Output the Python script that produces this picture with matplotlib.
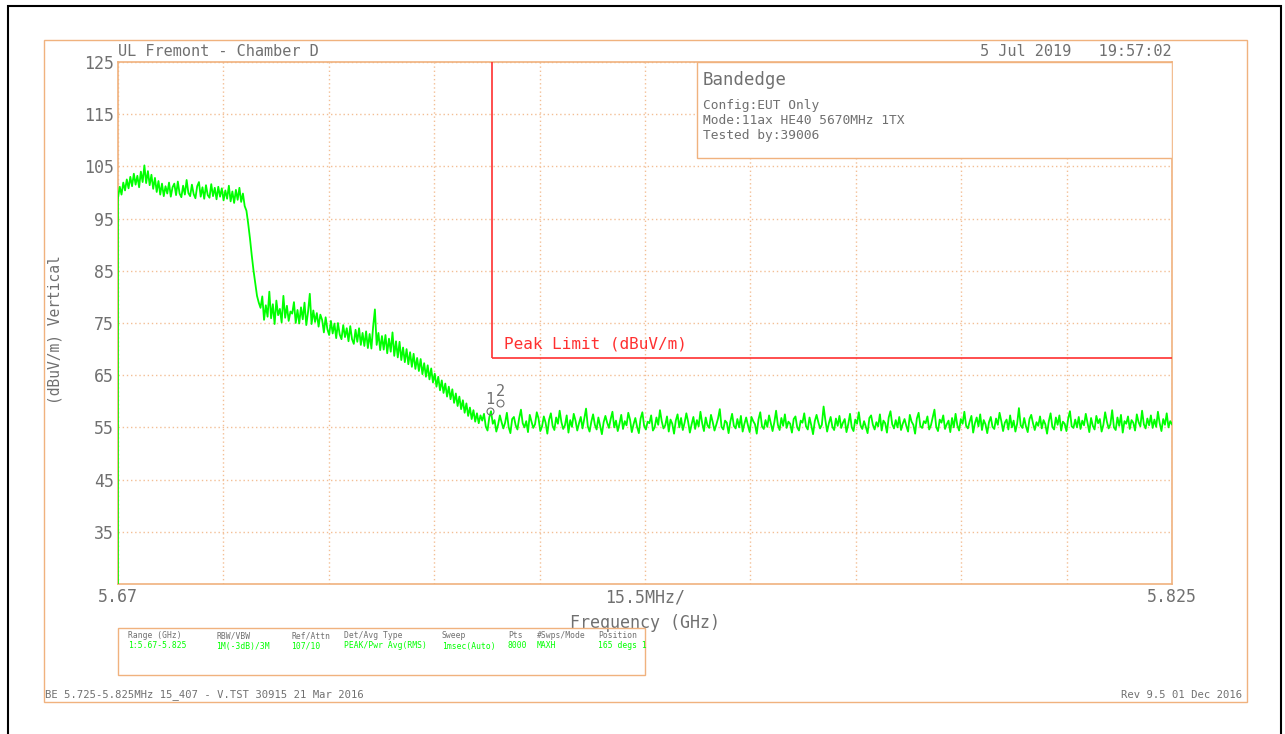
import numpy as np
import matplotlib
matplotlib.use("Agg")
import matplotlib.pyplot as plt
from matplotlib.patches import Rectangle

# sweep settings
f_start = 5.67
f_stop = 5.825
ref_top = 125
ref_bottom = 25
y_ticks = [35, 45, 55, 65, 75, 85, 95, 105, 115, 125]

# peak limit (band edge at 5.725 GHz)
limit_freq = 5.725
limit_level = 68.2

# markers 1 and 2
marker_freq = [5.7247, 5.7262]
marker_level = [58.2, 59.7]
marker_names = ["1", "2"]

# max hold trace, dBuV/m
trace = [
    # in-band
    99.0, 101.1, 99.6, 101.9, 100.4, 102.5, 100.8, 103.0, 101.2, 103.6,
    101.5, 103.2, 101.0, 104.0, 102.0, 105.2, 101.8, 104.1,
    101.4, 103.4, 100.7, 102.8, 100.1, 102.2, 99.6, 101.7, 99.3, 101.2,
    99.8, 101.9, 99.2, 101.0, 101.7, 99.5, 102.1, 99.8, 99.1, 101.3,
    99.6, 102.4, 99.9, 99.3, 101.5, 99.7, 98.9, 101.2, 102.0, 99.2,
    101.0, 98.8, 101.4, 99.5, 99.0, 101.6, 99.3, 100.9, 98.7, 101.1, 99.2,
    100.8, 98.5, 100.4, 98.8, 101.3, 98.3, 100.2, 98.0, 100.5, 98.6,
    100.9, 98.2, 99.8, 97.4,
    # skirt
    96.5, 94.0, 91.2, 88.0, 85.1, 82.6, 80.2, 78.9,
    77.9, 80.1, 75.6, 78.4, 76.2, 81.0, 75.9, 78.6, 74.8, 79.3,
    76.5, 77.7, 75.1, 80.2, 76.0, 78.3, 75.4, 77.2, 76.8, 79.0,
    75.0, 77.5, 74.9, 78.0, 75.7, 78.9, 74.6, 77.1, 80.6, 74.8,
    77.4, 75.2, 76.9, 74.3, 76.6,
    75.6, 73.2, 76.1, 73.8, 72.7, 75.4, 73.0, 74.9, 72.1, 75.0,
    72.8, 71.9, 74.6, 72.3, 74.0, 71.5, 74.4, 71.9, 71.0, 73.7,
    71.4, 74.0, 70.8, 73.1, 70.6, 73.4, 70.2, 72.9, 70.1, 74.3,
    77.6, 70.8, 73.1, 69.8, 72.5, 69.9, 72.7, 69.2, 72.0, 69.5,
    73.2, 68.7, 71.5, 68.4, 71.4, 67.9, 70.3, 67.5, 70.0, 67.1,
    69.4, 66.6, 69.1, 66.2, 68.3, 65.8, 68.1, 65.2, 67.3, 64.7,
    66.9, 64.2, 66.3, 63.6,
    65.3, 62.8, 64.7, 62.1, 64.0, 61.6, 63.4, 60.9, 62.8, 60.4,
    62.3, 59.7, 61.5, 59.1, 60.9, 58.5, 60.2, 57.8, 59.6, 57.2,
    58.8, 56.6, 58.3, 56.1, 57.7, 55.8, 57.3,
    # out of band noise floor
    56.3, 57.6, 55.2, 54.4, 56.9, 58.1, 55.7, 56.4, 54.2, 55.5,
    57.3, 56.0, 54.8, 55.9, 57.8, 55.1, 53.9, 56.6, 57.0, 55.4,
    54.6, 56.8, 58.4, 55.8, 55.0, 56.2, 54.1, 57.4, 56.1, 54.9,
    55.6, 57.9, 56.7, 54.3, 55.2, 57.1, 55.9, 53.8, 56.5, 57.7,
    55.3, 54.5, 56.9, 55.7, 58.2, 56.0, 54.7, 55.4, 57.3, 54.0,
    56.4, 55.1, 57.6, 56.3, 54.4, 55.8, 57.0, 54.8, 56.7, 58.6,
    55.2, 54.2, 56.1, 57.5, 55.5, 54.6, 56.9, 55.3, 53.7, 56.0,
    57.2, 55.9, 54.9, 56.6, 58.0, 55.0, 56.3, 54.3, 55.7, 57.4,
    54.7, 56.2, 55.4, 57.8, 56.5, 54.1, 55.6, 56.8, 55.1, 53.9,
    56.7, 57.9, 55.3, 54.6, 56.1, 55.8, 57.3, 54.4, 55.0, 56.9,
    55.5, 58.3, 56.2, 54.8, 55.4, 57.1, 54.2, 56.5, 55.7, 53.8,
    56.3, 57.5, 55.0, 56.8, 54.5, 55.9, 57.7, 56.1, 54.0, 55.6,
    57.0, 54.7, 56.4, 55.2, 58.0, 55.8, 54.3, 56.9, 55.4, 54.9,
    57.4, 56.0, 54.4, 55.5, 56.7, 58.5, 55.1, 54.6, 56.3, 55.9,
    53.9, 56.1, 57.6, 55.3, 54.8, 56.6, 55.0, 57.2, 54.2, 55.7,
    56.9, 55.4, 54.1, 57.0, 56.2, 55.6, 53.8, 56.5, 57.9, 55.2,
    54.7, 56.4, 55.1, 57.3, 55.8, 54.3, 56.0, 58.2, 55.5, 54.5,
    56.8, 55.3, 57.5, 54.9, 56.1, 55.7, 54.0, 56.6, 57.1, 55.0,
    54.4, 56.3, 55.9, 57.7, 55.2, 54.6, 56.9, 55.4, 53.7, 56.2,
    57.4, 56.0, 54.8, 55.5, 59.0, 56.4, 54.2, 55.8, 57.0, 55.1,
    54.5, 56.7, 55.3, 57.2, 54.9, 55.9, 56.6, 54.1, 55.6, 57.6,
    55.0, 54.3, 56.5, 55.7, 57.9, 55.4, 54.7, 56.2, 55.1, 53.9,
    56.8, 57.3, 55.5, 54.6, 56.0, 55.2, 57.5, 54.4, 56.3, 55.8,
    54.0, 56.9, 58.1, 55.6, 54.8, 56.4, 55.0, 57.0, 54.5, 55.7,
    56.6, 55.3, 54.2, 57.4, 56.1, 55.5, 53.8, 56.7, 57.8, 55.2,
    54.9, 56.2, 55.8, 57.1, 54.6, 55.4, 56.9, 58.4, 55.1, 54.3,
    56.5, 55.9, 57.3, 54.7, 55.6, 56.3, 54.1, 56.8, 55.0, 57.6,
    55.4, 54.4, 56.6, 55.7, 58.0, 55.3, 54.8, 56.1, 57.2, 54.0,
    55.8, 56.9, 55.2, 57.5, 54.5, 56.4, 55.6, 53.9, 56.0, 57.0,
    55.1, 54.7, 56.7, 55.5, 57.8, 56.2, 54.3, 55.9, 56.5, 54.6,
    57.3, 55.0, 56.3, 54.2, 55.7, 58.7, 55.4, 54.9, 56.8, 55.2,
    54.1, 56.6, 57.4, 55.8, 54.5, 56.0, 55.3, 57.1, 54.8, 56.4,
    55.6, 53.8, 56.2, 57.7, 55.1, 54.6, 56.9, 55.5, 57.3, 54.4,
    56.1, 55.7, 54.3, 56.7, 58.1, 55.2, 54.9, 56.5, 55.0, 57.0,
    54.7, 56.3, 55.4, 57.6, 55.9, 54.1, 56.8, 55.3, 54.6, 57.2,
    55.8, 56.6, 54.2, 55.5, 57.9, 56.1, 54.8, 55.6, 58.3, 55.0,
    54.5, 56.9, 55.3, 57.4, 54.0, 56.2, 55.7, 57.1, 54.7, 56.4,
    55.9, 54.4, 57.5, 56.0, 55.2, 58.2, 55.6, 54.8, 56.7, 55.4,
    57.3, 54.9, 56.5, 55.1, 58.0, 55.8, 54.3, 56.6, 55.5, 57.7,
    55.0, 56.2, 55.6,
]

# settings table under the plot
table_heads = ["Range (GHz)", "RBW/VBW", "Ref/Attn", "Det/Avg Type", "Sweep",
               "Pts", "#Swps/Mode", "Position"]
table_vals = ["1:5.67-5.825", "1M(-3dB)/3M", "107/10", "PEAK/Pwr Avg(RMS)",
              "1msec(Auto)", "8000", "MAXH", "165 degs 1"]

W, H = 1285, 734
ORANGE = "#F0B27E"
GRID = "#F3BF95"
GRAY = "#707070"
GREEN = "#00FF00"
RED = "#FF3030"
MONO = "DejaVu Sans Mono"


def fx(px):
    return px / W


def fy(py):
    return 1 - py / H


fig = plt.figure(figsize=(W / 100, H / 100), dpi=100)
fig.patch.set_facecolor("white")

# outer black border and orange page frame
fig.add_artist(Rectangle((fx(8), fy(740)), fx(1281) - fx(8), fy(6) - fy(740),
                         transform=fig.transFigure, fill=False, ec="black", lw=1.5))
fig.add_artist(Rectangle((fx(44), fy(702)), fx(1247) - fx(44), fy(40) - fy(702),
                         transform=fig.transFigure, fill=False, ec=ORANGE, lw=1))

ax = fig.add_axes([fx(118), fy(584), fx(1172) - fx(118), fy(62) - fy(584)])
ax.set_xlim(f_start, f_stop)
ax.set_ylim(ref_bottom, ref_top)
for s in ax.spines.values():
    s.set_color(ORANGE)
    s.set_linewidth(1.2)

xgrid = np.linspace(f_start, f_stop, 11)
ax.set_xticks(xgrid)
xl = [""] * 11
xl[0], xl[5], xl[10] = "5.67", "15.5MHz/", "5.825"
ax.set_xticklabels(xl)
ax.set_yticks(y_ticks)
ax.set_yticklabels([str(v) for v in y_ticks])
ax.tick_params(length=0, labelcolor=GRAY, labelsize=12, pad=3)
for lab in ax.get_xticklabels() + ax.get_yticklabels():
    lab.set_family(MONO)
ax.grid(True, color=GRID, ls=(0, (1, 2)), lw=1)

freq = np.linspace(f_start, f_stop, len(trace))
ax.vlines(f_start, ref_bottom, trace[0], color=GREEN, lw=1.2, zorder=3)
ax.plot(freq, trace, color=GREEN, lw=1.3, zorder=3)

ax.vlines(limit_freq, limit_level, ref_top, color=RED, lw=1.2, zorder=4)
ax.hlines(limit_level, limit_freq, f_stop, color=RED, lw=1.2, zorder=4)
ax.text(limit_freq + 0.0017, limit_level + 1.4, "Peak Limit (dBuV/m)", color=RED,
        fontsize=11.5, family=MONO, va="bottom", ha="left", zorder=4)

ax.plot(marker_freq, marker_level, ls="none", marker="o", ms=5, mfc="none",
        mec=GRAY, mew=0.8, zorder=5)
for mf, ml, name in zip(marker_freq, marker_level, marker_names):
    ax.text(mf, ml + 2.2, name, color=GRAY, fontsize=11, family=MONO,
            ha="center", va="center", zorder=5)

ax.set_xlabel("Frequency (GHz)", fontsize=12, color=GRAY, family=MONO, labelpad=6)
ax.set_ylabel("(dBuV/m) Vertical", fontsize=10.5, color=GRAY, family=MONO)
ax.yaxis.set_label_coords((62 - 118) / (1172 - 118), (584 - 330) / (584 - 62))

# info box top right
ax.add_patch(Rectangle((fx(697), fy(158)), fx(1172) - fx(697), fy(62) - fy(158),
                       transform=fig.transFigure, fc="white", ec=ORANGE, lw=1,
                       zorder=6))
fig.text(fx(703), fy(80), "Bandedge", fontsize=12.5, color=GRAY, family=MONO,
         va="center", zorder=7)
for i, line in enumerate(["Config:EUT Only", "Mode:11ax HE40 5670MHz 1TX",
                          "Tested by:39006"]):
    fig.text(fx(703), fy(105 + 15 * i), line, fontsize=9.3, color=GRAY,
             family=MONO, va="center", zorder=7)

fig.text(fx(118), fy(52), "UL Fremont - Chamber D", fontsize=11, color=GRAY,
         family=MONO, va="center")
fig.text(fx(1172), fy(52), "5 Jul 2019   19:57:02", fontsize=11, color=GRAY,
         family=MONO, va="center", ha="right")

# settings table
fig.add_artist(Rectangle((fx(118), fy(675)), fx(645) - fx(118), fy(628) - fy(675),
                         transform=fig.transFigure, fill=False, ec=ORANGE, lw=1))
col_x = [128, 216, 291, 344, 442, 508, 537, 598]
for cx, hd, vl in zip(col_x, table_heads, table_vals):
    fig.text(fx(cx), fy(636), hd, fontsize=5.8, color=GRAY, family=MONO, va="center")
    fig.text(fx(cx), fy(646), vl, fontsize=5.8, color=GREEN, family=MONO, va="center")

fig.text(fx(45), fy(695), "BE 5.725-5.825MHz 15_407 - V.TST 30915 21 Mar 2016",
         fontsize=7.6, color=GRAY, family=MONO, va="center")
fig.text(fx(1242), fy(695), "Rev 9.5 01 Dec 2016", fontsize=7.6, color=GRAY,
         family=MONO, va="center", ha="right")

fig.savefig("out.png", dpi=100)
